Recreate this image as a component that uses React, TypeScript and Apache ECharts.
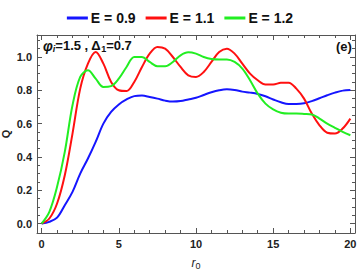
import React, { useEffect, useRef } from "react";
import * as echarts from "echarts";

const r0Values = [0, 0.5, 1, 1.5, 2, 2.5, 3, 3.5, 4, 4.5, 5, 5.5, 6, 6.5, 7, 7.5, 8, 8.5, 9, 9.5, 10, 10.5, 11, 11.5, 12, 12.5, 13, 13.5, 14, 14.5, 15, 15.5, 16, 16.5, 17, 17.5, 18, 18.5, 19, 19.5, 20];

const qE09 = [0, 0.01, 0.035, 0.11, 0.19, 0.3, 0.39, 0.49, 0.6, 0.67, 0.715, 0.745, 0.765, 0.768, 0.76, 0.75, 0.738, 0.732, 0.735, 0.745, 0.755, 0.772, 0.788, 0.8, 0.806, 0.802, 0.792, 0.786, 0.778, 0.764, 0.745, 0.728, 0.718, 0.718, 0.722, 0.735, 0.752, 0.77, 0.786, 0.798, 0.802];
const qE11 = [0, 0.03, 0.12, 0.29, 0.54, 0.81, 0.96, 1.03, 0.96, 0.85, 0.8, 0.795, 0.85, 0.94, 1.02, 1.06, 1.05, 1.0, 0.94, 0.89, 0.88, 0.91, 0.97, 1.03, 1.05, 1.02, 0.96, 0.9, 0.86, 0.835, 0.835, 0.845, 0.846, 0.81, 0.75, 0.66, 0.59, 0.545, 0.54, 0.57, 0.63];
const qE12 = [0, 0.07, 0.22, 0.43, 0.71, 0.88, 0.92, 0.87, 0.82, 0.825, 0.87, 0.94, 1.0, 1.0, 0.97, 0.945, 0.945, 0.97, 1.01, 1.028, 1.02, 1.0, 0.988, 0.985, 0.985, 0.97, 0.93, 0.86, 0.78, 0.72, 0.685, 0.665, 0.66, 0.66, 0.658, 0.655, 0.63, 0.6, 0.575, 0.55, 0.53];

const seriesNames = ["E = 0.9", "E = 1.1", "E = 1.2"];
const seriesColors = ["#1515ff", "#ff1010", "#22ee22"];

const xMajor = [0, 5, 10, 15, 20];
const xMinor = [1, 2, 3, 4, 6, 7, 8, 9, 11, 12, 13, 14, 16, 17, 18, 19];
const yMajor = [0, 0.2, 0.4, 0.6, 0.8, 1.0];
const yMinor = [0.05, 0.1, 0.15, 0.25, 0.3, 0.35, 0.45, 0.5, 0.55, 0.65, 0.7, 0.75, 0.85, 0.9, 0.95, 1.05, 1.1];

const X_MIN = -0.3;
const X_MAX = 20.3;
const Y_MIN = -0.057;
const Y_MAX = 1.132;

const FONT = "'Liberation Sans', Arial, sans-serif";
const FRAME = "#555";

export default function App() {
  const ref = useRef<HTMLDivElement>(null);
  useEffect(() => {
    if (!ref.current) return;
    const chart = echarts.init(ref.current, null, { renderer: "svg" });
    const allSeries = [qE09, qE11, qE12];

    const labelStyle = {
      fontFamily: FONT,
      fontWeight: "bold",
      fontSize: 11,
      color: "#222",
    };

    const mkX = (position: string, values: number[], len: number, showLine: boolean, showLabel: boolean, extra: any = {}) => ({
      type: "value",
      position,
      min: X_MIN,
      max: X_MAX,
      axisLine: { show: showLine, onZero: false, lineStyle: { color: FRAME, width: 1 } },
      axisTick: { show: true, inside: true, length: len, customValues: values, lineStyle: { color: FRAME, width: 1 } },
      axisLabel: showLabel ? { show: true, customValues: values, margin: 5, ...labelStyle } : { show: false },
      splitLine: { show: false },
      ...extra,
    });
    const mkY = (position: string, values: number[], len: number, showLine: boolean, showLabel: boolean, extra: any = {}) => ({
      type: "value",
      position,
      min: Y_MIN,
      max: Y_MAX,
      axisLine: { show: showLine, onZero: false, lineStyle: { color: FRAME, width: 1 } },
      axisTick: { show: true, inside: true, length: len, customValues: values, lineStyle: { color: FRAME, width: 1 } },
      axisLabel: showLabel
        ? { show: true, customValues: values, margin: 5, formatter: (v: number) => v.toFixed(1), ...labelStyle }
        : { show: false },
      splitLine: { show: false },
      ...extra,
    });

    chart.setOption({
      animation: false,
      grid: { left: 37, right: 5, top: 35, bottom: 37, containLabel: false, outerBoundsMode: "none" },
      legend: {
        top: 6,
        left: "center",
        itemWidth: 21,
        itemHeight: 3,
        itemGap: 10,
        icon: "rect",
        data: seriesNames,
        textStyle: { fontFamily: FONT, fontWeight: "bold", fontSize: 14, color: "#111", padding: [0, 0, 0, -2] },
      },
      xAxis: [
        mkX("bottom", xMajor, 5, true, true, {
          name: "{r|r}{s|0}",
          nameLocation: "middle",
          nameGap: 22,
          nameTextStyle: {
            rich: {
              r: { fontFamily: FONT, fontStyle: "italic", fontSize: 12, color: "#222" },
              s: { fontFamily: FONT, fontSize: 9, color: "#222", padding: [6, 0, 0, 0] },
            },
          },
        }),
        mkX("bottom", xMinor, 3, false, false),
        mkX("top", xMajor, 5, true, false),
        mkX("top", xMinor, 3, false, false),
      ],
      yAxis: [
        mkY("left", yMajor, 5, true, true, {
          name: "Q",
          nameLocation: "middle",
          nameGap: 26,
          nameMoveOverlap: false,
          nameRotate: 90,
          nameTextStyle: { fontFamily: FONT, fontSize: 11, fontWeight: "bold", color: "#222" },
        }),
        mkY("left", yMinor, 3, false, false),
        mkY("right", yMajor, 5, true, false),
        mkY("right", yMinor, 3, false, false),
      ],
      series: seriesNames.map((name, i) => ({
        name,
        type: "line",
        xAxisIndex: 0,
        yAxisIndex: 0,
        data: r0Values.map((x, j) => [x, allSeries[i][j]]),
        smooth: 0.35,
        symbol: "none",
        lineStyle: { color: seriesColors[i], width: 2 },
        itemStyle: { color: seriesColors[i] },
      })),
      graphic: [
        {
          type: "text",
          x: 43,
          y: 38,
          style: {
            text: "{p|φ}{pi|i}{t|=1.5 , Δ}{sub|1}{t|=0.7}",
            rich: {
              p: { fontFamily: FONT, fontStyle: "italic", fontWeight: "bold", fontSize: 14, fill: "#111" },
              pi: { fontFamily: FONT, fontStyle: "italic", fontWeight: "bold", fontSize: 9, fill: "#111", padding: [6, 0, 0, 0] },
              t: { fontFamily: FONT, fontWeight: "bold", fontSize: 13, fill: "#111" },
              sub: { fontFamily: FONT, fontWeight: "bold", fontSize: 9, fill: "#111", padding: [6, 0, 0, 0] },
            },
          },
        },
        {
          type: "text",
          x: 336,
          y: 40,
          style: { text: "(e)", font: `bold 13px ${FONT}`, fill: "#111" },
        },
      ],
    });
    return () => chart.dispose();
  }, []);
  return <div ref={ref} style={{ width: 360, height: 270, position: "absolute", left: 0, top: 0 }} />;
}
